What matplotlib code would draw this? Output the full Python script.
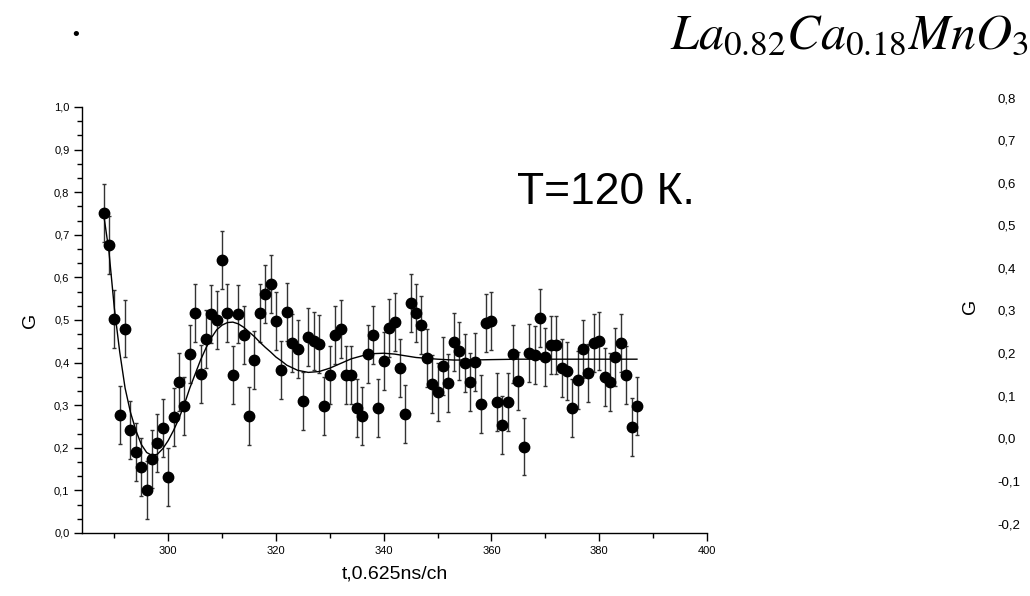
import matplotlib
matplotlib.use("Agg")
import matplotlib.pyplot as plt
from matplotlib.ticker import MultipleLocator, AutoMinorLocator, FuncFormatter

plt.rcParams["font.family"] = ["Liberation Sans", "DejaVu Sans"]
plt.rcParams["mathtext.fontset"] = "stix"

# muon spin relaxation, T = 120 K
channels = list(range(288, 388))
g_values = [
    0.752, 0.676, 0.502, 0.278, 0.480, 0.242, 0.191, 0.155, 0.100, 0.173,
    0.212, 0.247, 0.131, 0.272, 0.355, 0.299, 0.420, 0.516, 0.374, 0.455,
    0.514, 0.500, 0.641, 0.517, 0.370, 0.514, 0.465, 0.275, 0.407, 0.516,
    0.562, 0.584, 0.497, 0.382, 0.518, 0.447, 0.432, 0.310, 0.460, 0.451,
    0.443, 0.299, 0.370, 0.464, 0.478, 0.370, 0.370, 0.293, 0.275, 0.420,
    0.464, 0.293, 0.403, 0.482, 0.496, 0.387, 0.279, 0.539, 0.517, 0.488,
    0.410, 0.349, 0.330, 0.391, 0.353, 0.449, 0.427, 0.398, 0.355, 0.402,
    0.303, 0.493, 0.497, 0.307, 0.254, 0.307, 0.420, 0.357, 0.203, 0.422,
    0.417, 0.504, 0.414, 0.441, 0.441, 0.388, 0.381, 0.294, 0.360, 0.432,
    0.376, 0.445, 0.451, 0.367, 0.354, 0.414, 0.445, 0.371, 0.248, 0.299,
]
G_ERR = 0.068

# fitted curve
fit_t = [288, 289, 290, 291, 292, 293, 294, 295, 296, 297, 298, 299, 300, 301,
         302, 303, 304, 305, 306, 307, 308, 309, 310, 311, 312, 313, 314, 315,
         316, 317, 318, 319, 320, 321, 322, 324, 326, 328, 330, 332, 334, 336,
         338, 340, 342, 344, 346, 348, 350, 353, 356, 360, 365, 370, 375, 380, 387]
fit_g = [0.750, 0.661, 0.528, 0.425, 0.340, 0.283, 0.241, 0.208, 0.189, 0.182,
         0.185, 0.198, 0.217, 0.241, 0.269, 0.302, 0.340, 0.373, 0.406, 0.434,
         0.458, 0.477, 0.488, 0.494, 0.495, 0.491, 0.483, 0.472, 0.461, 0.448,
         0.436, 0.425, 0.413, 0.404, 0.394, 0.382, 0.377, 0.379, 0.387, 0.398,
         0.409, 0.416, 0.421, 0.422, 0.420, 0.416, 0.412, 0.410, 0.408, 0.406,
         0.406, 0.407, 0.408, 0.408, 0.408, 0.408, 0.408]

# tick labels of the clipped second panel on the right
right_ticks = ["0,8", "0,7", "0,6", "0,5", "0,4", "0,3", "0,2", "0,1", "0,0", "-0,1", "-0,2"]

W, H = 1030, 596
fig = plt.figure(figsize=(W / 100, H / 100), dpi=100)
ax = fig.add_axes([82 / W, 1 - 533 / H, (707 - 82) / W, (533 - 107) / H])

ax.errorbar(channels, g_values, yerr=G_ERR, fmt="none", ecolor="#333333",
            elinewidth=1.0, capsize=1.6, capthick=1.0, zorder=2)
ax.plot(channels, g_values, "o", color="black", markersize=7.5, zorder=3)
ax.plot(fit_t, fit_g, color="black", linewidth=1.0, zorder=4)

ax.set_xlim(284, 400)
ax.set_ylim(0, 1.0)
ax.xaxis.set_major_locator(MultipleLocator(20))
ax.xaxis.set_minor_locator(MultipleLocator(10))
ax.yaxis.set_major_locator(MultipleLocator(0.1))
ax.yaxis.set_minor_locator(AutoMinorLocator(3))
ax.yaxis.set_major_formatter(FuncFormatter(lambda v, p: f"{v:.1f}".replace(".", ",")))
for side in ("top", "right"):
    ax.spines[side].set_visible(False)
for side in ("left", "bottom"):
    ax.spines[side].set_linewidth(1.0)
ax.tick_params(which="major", direction="out", length=6, width=1.0, labelsize=8, pad=3)
ax.tick_params(which="minor", direction="out", length=3.5, width=1.0)

ax.set_xlabel("t,0.625ns/ch", fontsize=14, labelpad=7)
ax.set_ylabel("G", fontsize=14)
ax.yaxis.set_label_coords(-0.069, 0.5)

ax.text(0.981, 0.80, "T=120 К.", transform=ax.transAxes, fontsize=32,
        ha="right", va="center")

fig.text(1028 / W, 1 - 48 / H, r"$La_{0.82}Ca_{0.18}MnO_3$", fontsize=36,
         ha="right", va="baseline")
fig.text(76 / W, 1 - 36 / H, "•", fontsize=14, ha="center", va="center")

# clipped neighbouring panel, same scale as the left one
for i, lab in enumerate(right_ticks):
    fig.text(997 / W, 1 - (99 + i * 42.6) / H, lab, fontsize=9.5, ha="left", va="center")
fig.text(971 / W, 1 - 306 / H, "G", fontsize=14, rotation=90, ha="center", va="center")

fig.savefig("out.png", dpi=100)
